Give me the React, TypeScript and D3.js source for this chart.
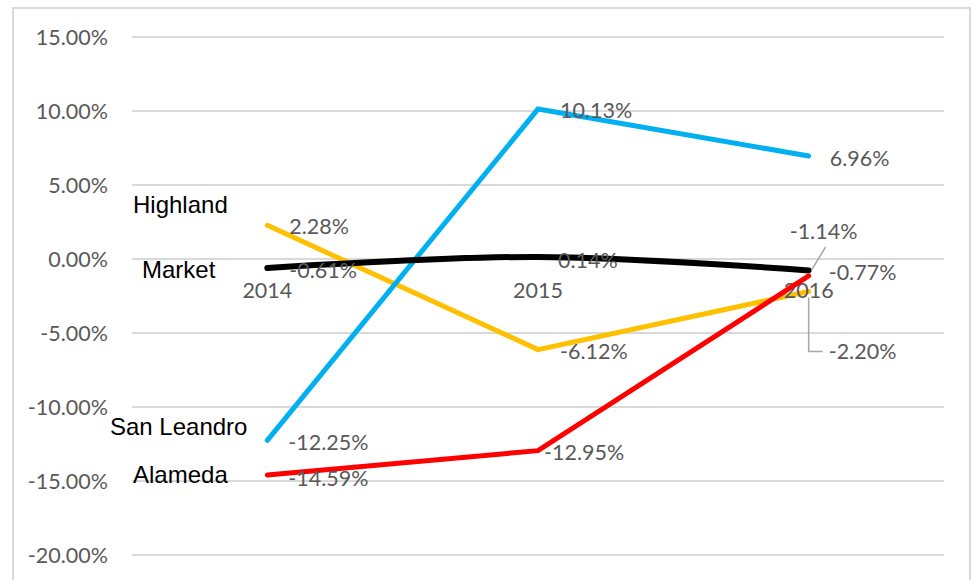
import React from "react";
import * as d3 from "d3";

const years = ["2014", "2015", "2016"];
const seriesNames = ["Highland", "San Leandro", "Market", "Alameda"];
const highland = [0.0228, -0.0612, -0.022];
const sanLeandro = [-0.1225, 0.1013, 0.0696];
const market = [-0.0061, 0.0014, -0.0077];
const alameda = [-0.1459, -0.1295, -0.0114];
const yTicks = [0.15, 0.1, 0.05, 0, -0.05, -0.1, -0.15, -0.2];

const W = 975;
const H = 580;
const plot = { left: 132, right: 944, top: 37, bottom: 555 };

const FONT = "Lato, 'Open Sans', sans-serif";
const NAME_FONT = "'Liberation Sans', Arial, sans-serif";

type Style = {
  color: string;
  width: number;
  smooth: boolean;
  nameX: number;
  nameY: number;
  labelOffsets: [number, number][];
  leaders: (null | [number, number][])[];
};

const styles: Style[] = [
  {
    color: "#FFC000",
    width: 5,
    smooth: false,
    nameX: 133,
    nameY: 213,
    labelOffsets: [[22, 1], [22, 2], [20, 60]],
    leaders: [null, null, [[0, 6], [0, 60], [14, 60]]],
  },
  {
    color: "#00B0F0",
    width: 5,
    smooth: false,
    nameX: 110,
    nameY: 435,
    labelOffsets: [[21, 2], [22, 1], [21, 2]],
    leaders: [null, null, null],
  },
  {
    color: "#000000",
    width: 6,
    smooth: true,
    nameX: 142,
    nameY: 278,
    labelOffsets: [[22, 2], [20, 3], [20, 2]],
    leaders: [null, null, null],
  },
  {
    color: "#FF0000",
    width: 5,
    smooth: false,
    nameX: 133,
    nameY: 483,
    labelOffsets: [[21, 3], [6, 2], [-19, -45]],
    leaders: [null, null, [[3, -6], [17, -29]]],
  },
];

const allValues = [highland, sanLeandro, market, alameda];

const locale = d3.formatLocale({
  decimal: ".",
  thousands: ",",
  grouping: [3],
  currency: ["$", ""],
  minus: "-",
});
const fmt = locale.format(".2%");

export default function App() {
  const x = d3
    .scalePoint<string>()
    .domain(years)
    .range([plot.left, plot.right])
    .padding(0.5);
  const y = d3
    .scaleLinear()
    .domain([-0.2, 0.15])
    .range([plot.bottom, plot.top]);

  const lineSharp = d3
    .line<number>()
    .x((_, i) => x(years[i]) as number)
    .y((v) => y(v));
  const lineSmooth = d3
    .line<number>()
    .x((_, i) => x(years[i]) as number)
    .y((v) => y(v))
    .curve(d3.curveCatmullRom.alpha(0.5));

  const lineEl = (k: number) => {
    const s = styles[k];
    const gen = s.smooth ? lineSmooth : lineSharp;
    return (
      <path
        key={"l" + k}
        d={gen(allValues[k]) || ""}
        fill="none"
        stroke={s.color}
        strokeWidth={s.width}
        strokeLinecap="round"
        strokeLinejoin="miter"
      />
    );
  };

  return (
    <svg
      width={W}
      height={H}
      style={{ position: "fixed", left: 0, top: 0, background: "#fff" }}
    >
      <rect x={0} y={0} width={W} height={H} fill="#fff" />
      <rect
        x={13}
        y={8}
        width={957}
        height={H}
        fill="none"
        stroke="#D9D9D9"
        strokeWidth={2}
      />
      {yTicks.map((t) => (
        <g key={t}>
          <line
            x1={plot.left}
            x2={plot.right}
            y1={y(t)}
            y2={y(t)}
            stroke="#D9D9D9"
            strokeWidth={2}
          />
          <text
            x={108}
            y={y(t)}
            dy="0.36em"
            textAnchor="end"
            fontFamily={FONT}
            fontSize={21.5}
            fill="#595959"
          >
            {fmt(t)}
          </text>
        </g>
      ))}
      {lineEl(0)}
      {years.map((yr) => (
        <text
          key={yr}
          x={x(yr)}
          y={298}
          textAnchor="middle"
          fontFamily={FONT}
          fontSize={21.5}
          fill="#595959"
        >
          {yr}
        </text>
      ))}
      {lineEl(1)}
      {lineEl(2)}
      {lineEl(3)}
      {styles.map((s, k) =>
        allValues[k].map((v, i) => {
          const px = x(years[i]) as number;
          const py = y(v);
          const [dx, dy] = s.labelOffsets[i];
          const leader = s.leaders[i];
          return (
            <g key={"lab" + k + "-" + i}>
              {leader && (
                <polyline
                  points={leader.map(([a, b]) => `${px + a},${py + b}`).join(" ")}
                  fill="none"
                  stroke="#A6A6A6"
                  strokeWidth={1.5}
                />
              )}
              <text
                x={px + dx}
                y={py + dy}
                dy="0.36em"
                fontFamily={FONT}
                fontSize={21.5}
                fill="#595959"
              >
                {fmt(v)}
              </text>
            </g>
          );
        })
      )}
      {styles.map((s, k) => (
        <text
          key={"n" + k}
          x={s.nameX}
          y={s.nameY}
          fontFamily={NAME_FONT}
          fontSize={24}
          fill="#000"
        >
          {seriesNames[k]}
        </text>
      ))}
    </svg>
  );
}
